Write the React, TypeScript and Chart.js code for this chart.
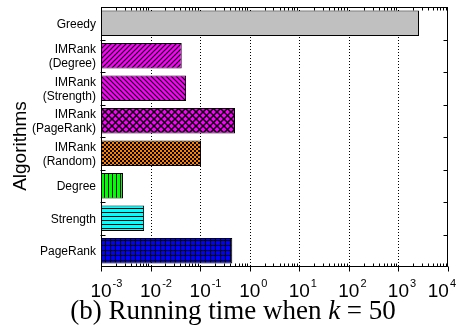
import React, { useEffect, useRef } from "react";
import { Chart, registerables } from "chart.js";

Chart.register(...registerables);

// ---- data ----
const categories: string[][] = [
  ["Greedy"],
  ["IMRank", "(Degree)"],
  ["IMRank", "(Strength)"],
  ["IMRank", "(PageRank)"],
  ["IMRank", "(Random)"],
  ["Degree"],
  ["Strength"],
  ["PageRank"],
];
const runningTimes = [2600, 0.0425, 0.052, 0.505, 0.104, 0.00278, 0.0074, 0.445];
const barColors = ["#c0c0c0", "#ff00ff", "#ff00ff", "#ff00ff", "#ff8000", "#00ff00", "#00ffff", "#0000ff"];
const barHatches = ["none", "fdiag", "bdiag", "diagcross", "checker", "vert", "horiz", "grid"];
const xTickExponents = [-3, -2, -1, 0, 1, 2, 3, 4];
const xMin = 1e-3;
const xMax = 1e4;
const yAxisTitle = "Algorithms";
const captionBefore = "(b) Running time when ";
const captionItalic = "k";
const captionAfter = " = 50";

function makePattern(color: string, hatch: string): any {
  if (hatch === "none") return color;
  const sizes: Record<string, number> = { fdiag: 5, bdiag: 5, diagcross: 7, checker: 4, vert: 4, horiz: 4, grid: 5 };
  const s = sizes[hatch];
  const c = document.createElement("canvas");
  c.width = s;
  c.height = s;
  const g = c.getContext("2d")!;
  g.fillStyle = color;
  g.fillRect(0, 0, s, s);
  g.strokeStyle = "#000";
  g.fillStyle = "#000";
  g.lineWidth = 1.2;
  const line = (x1: number, y1: number, x2: number, y2: number) => {
    g.beginPath();
    g.moveTo(x1, y1);
    g.lineTo(x2, y2);
    g.stroke();
  };
  const fwd = () => {
    line(-1, s + 1, s + 1, -1);
    line(-1, 1, 1, -1);
    line(s - 1, s + 1, s + 1, s - 1);
  };
  const back = () => {
    line(-1, -1, s + 1, s + 1);
    line(s - 1, -1, s + 1, 1);
    line(-1, s - 1, 1, s + 1);
  };
  switch (hatch) {
    case "fdiag":
      fwd();
      break;
    case "bdiag":
      back();
      break;
    case "diagcross":
      g.lineWidth = 1.5;
      fwd();
      back();
      break;
    case "checker":
      g.fillRect(0, 0, 2, 2);
      g.fillRect(2, 2, 2, 2);
      break;
    case "vert":
      g.fillRect(0, 0, 1, s);
      break;
    case "horiz":
      g.fillRect(0, 0, s, 1);
      break;
    case "grid":
      g.fillRect(0, 0, 1, s);
      g.fillRect(0, 0, s, 1);
      break;
  }
  return g.createPattern(c, "repeat");
}

const SANS = "'Liberation Sans', Arial, sans-serif";
const SERIF = "'Liberation Serif', 'Times New Roman', serif";

const decorPlugin = {
  id: "decor",
  beforeDatasetsDraw(chart: any) {
    const { ctx, chartArea } = chart;
    const xs = chart.scales.x;
    ctx.save();
    ctx.strokeStyle = "#000";
    ctx.lineWidth = 1;
    ctx.setLineDash([1, 2]);
    xTickExponents.forEach((e) => {
      if (e === xTickExponents[0] || e === xTickExponents[xTickExponents.length - 1]) return;
      const px = Math.round(xs.getPixelForValue(Math.pow(10, e))) + 0.5;
      ctx.beginPath();
      ctx.moveTo(px, chartArea.top);
      ctx.lineTo(px, chartArea.bottom);
      ctx.stroke();
    });
    ctx.restore();
  },
  afterDatasetsDraw(chart: any) {
    const { ctx, chartArea } = chart;
    const xs = chart.scales.x;
    const ys = chart.scales.y;
    const L = Math.round(chartArea.left) + 0.5;
    const R = Math.round(chartArea.right) - 0.5;
    const T = Math.round(chartArea.top) + 0.5;
    const B = Math.round(chartArea.bottom) - 0.5;
    ctx.save();
    ctx.strokeStyle = "#000";
    ctx.lineWidth = 1;
    ctx.setLineDash([]);
    ctx.strokeRect(L, T, R - L, B - T);

    // minor + major x ticks
    ctx.beginPath();
    for (let i = 0; i < xTickExponents.length; i++) {
      const e = xTickExponents[i];
      const major = Math.round(xs.getPixelForValue(Math.pow(10, e))) + 0.5;
      ctx.moveTo(major, B);
      ctx.lineTo(major, B + 5);
      if (i === xTickExponents.length - 1) break;
      for (let m = 2; m <= 9; m++) {
        const px = Math.round(xs.getPixelForValue(m * Math.pow(10, e))) + 0.5;
        ctx.moveTo(px, B);
        ctx.lineTo(px, B - 3);
        ctx.moveTo(px, T);
        ctx.lineTo(px, T + 3);
      }
    }
    // y ticks at category boundaries
    for (let i = 1; i < categories.length; i++) {
      const yb = Math.round((ys.getPixelForValue(i - 1) + ys.getPixelForValue(i)) / 2) + 0.5;
      ctx.moveTo(L - 1, yb);
      ctx.lineTo(L + 4, yb);
      ctx.moveTo(R - 4, yb);
      ctx.lineTo(R, yb);
    }
    ctx.stroke();

    // category labels
    ctx.fillStyle = "#000";
    ctx.font = `12px ${SANS}`;
    ctx.textAlign = "right";
    ctx.textBaseline = "middle";
    categories.forEach((lines, i) => {
      const cy = ys.getPixelForValue(i);
      const lh = 14;
      lines.forEach((t, j) => {
        const y = cy + (j - (lines.length - 1) / 2) * lh + 1;
        ctx.fillText(t, 96, y);
      });
    });

    // x tick labels 10^e
    ctx.textAlign = "left";
    ctx.textBaseline = "alphabetic";
    xTickExponents.forEach((e) => {
      const px = xs.getPixelForValue(Math.pow(10, e));
      ctx.font = `19px ${SANS}`;
      const wBase = ctx.measureText("10").width;
      ctx.font = `11px ${SANS}`;
      const expStr = String(e);
      const wExp = ctx.measureText(expStr).width;
      let left = px - wBase / 2;
      const total = wBase + 1 + wExp;
      if (left + total > chart.width - 2) left = chart.width - 2 - total;
      ctx.font = `19px ${SANS}`;
      ctx.fillText("10", left, 297);
      ctx.font = `11px ${SANS}`;
      ctx.fillText(expStr, left + wBase + 1, 287);
    });

    // y axis title
    ctx.save();
    ctx.font = `19px ${SANS}`;
    ctx.textAlign = "center";
    ctx.translate(26, 146);
    ctx.rotate(-Math.PI / 2);
    ctx.fillText(yAxisTitle, 0, 0);
    ctx.restore();

    // caption
    const capSize = 27;
    ctx.textAlign = "left";
    ctx.font = `${capSize}px ${SERIF}`;
    const w1 = ctx.measureText(captionBefore).width;
    const w3 = ctx.measureText(captionAfter).width;
    ctx.font = `italic ${capSize}px ${SERIF}`;
    const w2 = ctx.measureText(captionItalic).width;
    const totalW = w1 + w2 + w3;
    let cx = 233 - totalW / 2;
    const by = 319;
    ctx.font = `${capSize}px ${SERIF}`;
    ctx.fillText(captionBefore, cx, by);
    cx += w1;
    ctx.font = `italic ${capSize}px ${SERIF}`;
    ctx.fillText(captionItalic, cx, by);
    cx += w2;
    ctx.font = `${capSize}px ${SERIF}`;
    ctx.fillText(captionAfter, cx, by);

    ctx.restore();
  },
};

export default function App() {
  const ref = useRef<HTMLCanvasElement>(null);
  useEffect(() => {
    if (!ref.current) return;
    const patterns = barColors.map((c, i) => makePattern(c, barHatches[i]));
    const chart = new Chart(ref.current, {
      type: "bar",
      data: {
        labels: categories as any,
        datasets: [
          {
            data: runningTimes,
            backgroundColor: patterns,
            borderColor: "#000",
            borderWidth: 1,
            borderSkipped: false,
            barPercentage: 0.78,
            categoryPercentage: 1,
          } as any,
        ],
      },
      options: {
        animation: false,
        responsive: false,
        indexAxis: "y",
        layout: { padding: { left: 101, top: 7, right: 10, bottom: 59 } },
        plugins: { legend: { display: false }, tooltip: { enabled: false } },
        scales: {
          x: { type: "logarithmic", min: xMin, max: xMax, display: false },
          y: { type: "category", display: false, offset: true },
        },
      },
      plugins: [decorPlugin],
    } as any);
    return () => chart.destroy();
  }, []);
  return (
    <div style={{ position: "absolute", left: 0, top: 0, width: 458, height: 326, background: "#fff" }}>
      <canvas ref={ref} width={458} height={326} style={{ display: "block" }} />
    </div>
  );
}
